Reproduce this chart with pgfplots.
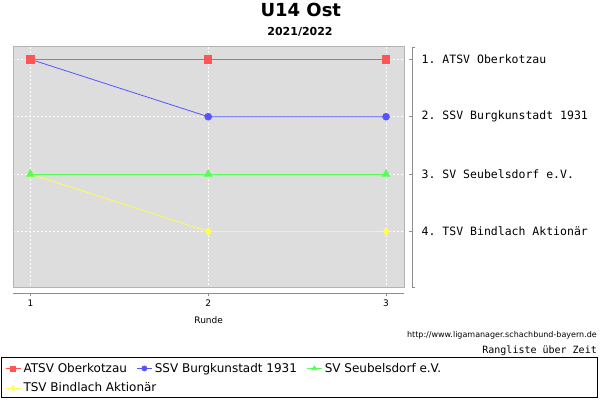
\documentclass[border=0pt]{standalone}
\usepackage{pgfplots}
\pgfplotsset{compat=1.18}
\usepackage{fontspec}
\setmainfont{DejaVu Sans}
\setmonofont{DejaVu Sans Mono}

\definecolor{bgplot}{HTML}{DDDDDD}
\definecolor{frameg}{HTML}{B4B4B4}
\definecolor{axisg}{HTML}{8C8C8C}
\definecolor{cred}{HTML}{FF5555}
\definecolor{cblue}{HTML}{5555FF}
\definecolor{cgreen}{HTML}{55FF55}
\definecolor{cyellow}{HTML}{FFFF55}

\begin{document}
\begin{tikzpicture}[x=1pt,y=1pt]
  \useasboundingbox (0,0) rectangle (600,400);

  % title
  \node[anchor=base, font=\bfseries\fontsize{18}{18}\selectfont, inner sep=0pt] at (300.8,383.3) {U14 Ost};
  \node[anchor=base, font=\bfseries\fontsize{11}{11}\selectfont, inner sep=0pt] at (300,364) {2021/2022};

  % plot area with series
  \begin{axis}[
    at={(13.3pt,112.3pt)}, anchor=south west,
    width=390.7pt, height=241pt, scale only axis,
    xmin=0.904, xmax=3.101,
    ymin=0.78, ymax=4.98, y dir=reverse,
    xtick={1,2,3}, ytick={1,2,3,4},
    xticklabels={}, yticklabels={},
    major tick length=0pt,
    grid=major,
    major grid style={white, dash pattern=on 2pt off 2pt, line width=0.5pt},
    axis background/.style={fill=bgplot},
    axis line style={frameg, line width=0.8pt},
    every axis plot/.append style={line width=0.8pt},
    legend columns=3,
    legend cell align=left,
    legend style={
      at={(axis description cs:-0.0212,-0.308)}, anchor=north west,
      draw=none, fill=none, inner sep=0pt,
      font=\fontsize{12}{14}\selectfont,
      row sep=7pt,
      /tikz/every even column/.append style={column sep=7pt},
      nodes={inner xsep=2.5pt, inner ysep=1pt},
    },
    legend image code/.code={
      \draw[mark repeat=2, mark phase=2, #1, mark size=2.5pt]
        plot coordinates {(0pt,0pt) (7.5pt,0pt) (15pt,0pt)};
    },
  ]
    % legend entries in reading order
    \addlegendimage{cred, line width=0.8pt, mark=square*}
    \addlegendentry{ATSV Oberkotzau}
    \addlegendimage{cblue, line width=0.8pt, mark=*}
    \addlegendentry{SSV Burgkunstadt 1931}
    \addlegendimage{cgreen, line width=0.8pt, mark=triangle*}
    \addlegendentry{SV Seubelsdorf e.V.}
    \addlegendimage{cyellow, line width=0.8pt, mark=diamond*}
    \addlegendentry{\makebox[0pt][l]{TSV Bindlach Aktionär}}

    % series drawn last-to-first so the first team lies on top
    \addplot[cyellow, mark=diamond*, mark size=3.8pt, forget plot] coordinates {(1,3) (2,4) (3,4)};
    \addplot[cgreen, mark=triangle*, mark size=4.2pt, forget plot] coordinates {(1,3) (2,3) (3,3)};
    \addplot[cblue, mark=*, mark size=3.4pt, forget plot] coordinates {(1,1) (2,2) (3,2)};
    \addplot[cred, mark=square*, mark size=3.6pt, forget plot] coordinates {(1,1) (2,1) (3,1)};
  \end{axis}

  % bottom x axis
  \begin{axis}[
    at={(13.3pt,106.7pt)}, anchor=south west,
    width=390.7pt, height=20pt, scale only axis,
    xmin=0.904, xmax=3.101, ymin=0, ymax=1,
    axis x line*=bottom, hide y axis,
    axis line style={axisg, line width=0.8pt},
    xtick={1,2,3}, xticklabels={1,2,3},
    tick style={axisg, line width=0.8pt},
    tick align=outside, major tick length=3pt,
    xticklabel style={font=\fontsize{9}{9}\selectfont, inner sep=2pt, yshift=-1pt},
    xlabel={Runde},
    xlabel style={font=\fontsize{9}{9}\selectfont, yshift=-5pt},
  ]
    \addplot[draw=none] coordinates {(1,0.5)};
  \end{axis}

  % right rank axis
  \begin{axis}[
    at={(402pt,113pt)}, anchor=south west,
    width=10pt, height=240pt, scale only axis,
    xmin=0, xmax=1,
    ymin=0.785, ymax=4.972, y dir=reverse,
    axis y line*=right, hide x axis,
    axis line style={axisg, line width=0.8pt},
    ytick={1,2,3,4},
    yticklabels={1. ATSV Oberkotzau, 2. SSV Burgkunstadt 1931, 3. SV Seubelsdorf e.V., 4. TSV Bindlach Aktionär},
    tick style={axisg, line width=0.8pt},
    tick align=inside, major tick length=3pt,
    yticklabel style={font=\ttfamily\fontsize{11.5}{11.5}\selectfont, anchor=west, inner sep=0pt, xshift=9.5pt},
    extra y ticks={0.785,4.972},
    extra y tick labels={},
    extra y tick style={tick align=outside},
  ]
    \addplot[draw=none] coordinates {(0.5,1)};
  \end{axis}

  % notes bottom right
  \node[anchor=base east, inner sep=0pt, font=\fontsize{8}{8}\selectfont] at (597,62.5) {http://www.ligamanager.schachbund-bayern.de};
  \node[anchor=base east, inner sep=0pt, font=\ttfamily\fontsize{10}{10}\selectfont] at (597,47) {Rangliste über Zeit};

  % legend frame
  \draw[black, line width=0.8pt] (1,2.3) rectangle (597.7,42.3);
\end{tikzpicture}
\end{document}
